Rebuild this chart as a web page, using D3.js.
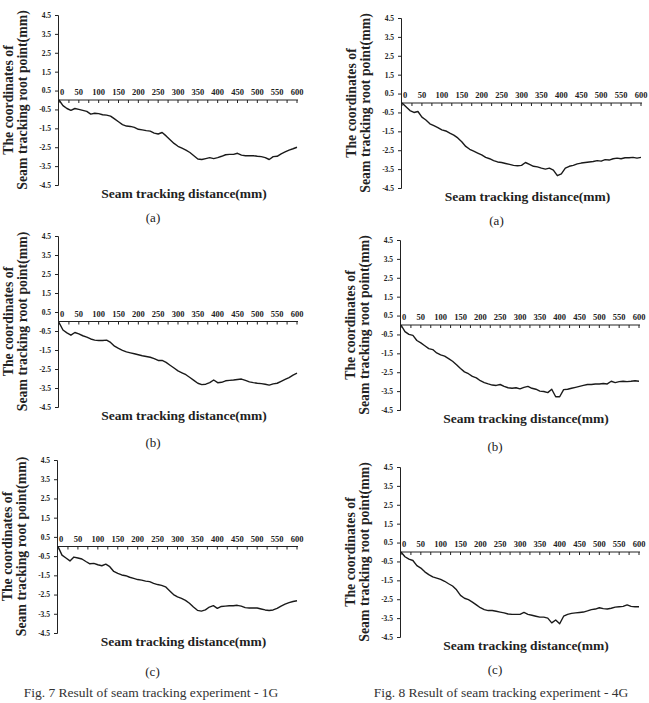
<!DOCTYPE html>
<html>
<head>
<meta charset="utf-8">
<script src="https://cdn.jsdelivr.net/npm/d3@7"></script>
<style>
  html, body { margin: 0; padding: 0; background: #fff; }
  svg { display: block; }
</style>
</head>
<body>
<svg id="chart" width="649" height="703"></svg>
<script>
// ---------- DATA ----------
const distance = [0,10,20,30,40,50,60,70,80,90,100,110,120,130,140,150,160,170,180,190,200,
  210,220,230,240,250,260,270,280,290,300,310,320,330,340,350,360,370,380,390,400,
  410,420,430,440,450,460,470,480,490,500,510,520,530,540,550,560,570,580,590,600];

const xTickLabels = [0,50,100,150,200,250,300,350,400,450,500,550,600];
const yTickLabels = ["4.5","3.5","2.5","1.5","0.5","-0.5","-1.5","-2.5","-3.5","-4.5"];

// Fig. 7 (1G)
const fig7a = [0,-0.3,-0.45,-0.55,-0.45,-0.5,-0.55,-0.6,-0.75,-0.7,-0.72,-0.78,-0.8,-0.85,-1.0,-1.15,-1.3,-1.38,-1.4,-1.45,-1.55,
  -1.58,-1.62,-1.65,-1.75,-1.8,-1.72,-1.9,-2.1,-2.3,-2.45,-2.55,-2.65,-2.78,-2.95,-3.12,-3.15,-3.1,-3.05,-3.1,-3.05,
  -2.98,-2.9,-2.88,-2.88,-2.82,-2.92,-2.95,-2.95,-2.95,-2.98,-3.0,-3.05,-3.15,-3.0,-2.98,-2.85,-2.75,-2.65,-2.58,-2.5];
const fig7b = [-0.05,-0.45,-0.6,-0.72,-0.58,-0.65,-0.75,-0.82,-0.92,-0.98,-1.0,-1.0,-0.98,-1.1,-1.3,-1.42,-1.52,-1.6,-1.65,-1.7,-1.75,
  -1.8,-1.84,-1.88,-1.95,-2.05,-2.05,-2.15,-2.3,-2.45,-2.6,-2.7,-2.8,-2.95,-3.1,-3.25,-3.32,-3.3,-3.22,-3.08,-3.22,
  -3.2,-3.12,-3.1,-3.08,-3.05,-3.03,-3.1,-3.18,-3.22,-3.25,-3.27,-3.3,-3.35,-3.28,-3.25,-3.15,-3.05,-2.95,-2.82,-2.72];
const fig7c = [0,-0.45,-0.6,-0.75,-0.55,-0.6,-0.65,-0.78,-0.9,-0.88,-0.95,-1.0,-0.92,-1.05,-1.3,-1.4,-1.48,-1.52,-1.6,-1.66,-1.72,
  -1.75,-1.8,-1.83,-1.92,-1.98,-2.02,-2.1,-2.3,-2.5,-2.62,-2.7,-2.8,-2.95,-3.15,-3.32,-3.36,-3.3,-3.15,-3.08,-3.22,
  -3.12,-3.1,-3.08,-3.08,-3.06,-3.1,-3.18,-3.2,-3.2,-3.2,-3.25,-3.3,-3.33,-3.3,-3.22,-3.1,-3.0,-2.92,-2.86,-2.82];

// Fig. 8 (4G)
const fig8a = [0,-0.2,-0.4,-0.5,-0.45,-0.75,-0.9,-1.1,-1.2,-1.3,-1.42,-1.48,-1.6,-1.7,-1.85,-2.05,-2.3,-2.45,-2.55,-2.65,-2.75,
  -2.88,-2.95,-3.05,-3.12,-3.15,-3.2,-3.25,-3.3,-3.32,-3.3,-3.15,-3.25,-3.35,-3.38,-3.45,-3.5,-3.45,-3.55,-3.85,-3.75,
  -3.45,-3.35,-3.3,-3.22,-3.18,-3.15,-3.12,-3.1,-3.05,-3.08,-3.0,-3.02,-2.95,-2.92,-2.95,-2.9,-2.9,-2.88,-2.92,-2.88];
const fig8b = [0,-0.35,-0.5,-0.55,-0.82,-0.95,-1.1,-1.25,-1.3,-1.48,-1.58,-1.65,-1.78,-1.92,-2.1,-2.3,-2.48,-2.58,-2.72,-2.8,-2.95,
  -3.05,-3.12,-3.18,-3.2,-3.15,-3.25,-3.32,-3.35,-3.32,-3.38,-3.3,-3.25,-3.35,-3.4,-3.5,-3.52,-3.58,-3.4,-3.8,-3.8,
  -3.42,-3.4,-3.35,-3.3,-3.25,-3.2,-3.15,-3.15,-3.12,-3.12,-3.1,-3.12,-2.98,-3.05,-3.0,-2.98,-3.0,-2.98,-2.95,-2.98];
const fig8c = [0,-0.25,-0.38,-0.45,-0.72,-0.85,-1.05,-1.2,-1.32,-1.38,-1.45,-1.55,-1.68,-1.8,-2.0,-2.3,-2.45,-2.52,-2.65,-2.8,-2.95,
  -3.05,-3.1,-3.1,-3.14,-3.18,-3.22,-3.28,-3.3,-3.3,-3.3,-3.2,-3.3,-3.35,-3.4,-3.45,-3.45,-3.5,-3.75,-3.6,-3.8,
  -3.4,-3.3,-3.25,-3.22,-3.2,-3.18,-3.12,-3.05,-3.02,-2.95,-3.0,-3.02,-2.98,-2.92,-2.9,-2.88,-2.8,-2.88,-2.9,-2.9];

const subLabels = ["(a)","(a)","(b)","(b)","(c)","(c)"];
const captions = ["Fig. 7 Result of seam tracking experiment - 1G","Fig. 8 Result of seam tracking experiment - 4G"];
const yTitleLines = ["The coordinates of","Seam tracking root point(mm)"];
const xTitle = "Seam tracking distance(mm)";

// ---------- LAYOUT ----------
const series = [fig7a, fig8a, fig7b, fig8b, fig7c, fig8c];
const panels = [
  {x0:59,  x1:297, yT:15,  yB:185, subY:222},
  {x0:402, x1:641, yT:18,  yB:188, subY:225},
  {x0:59,  x1:297, yT:236, yB:407, subY:447},
  {x0:401, x1:639, yT:240, yB:410, subY:451},
  {x0:58,  x1:297, yT:460, yB:633, subY:676},
  {x0:401, x1:639, yT:467, yB:637, subY:674}
];

const svg = d3.select("#chart");
const ink = "#222";
const serif = "'Liberation Serif', 'Times New Roman', serif";

panels.forEach((p, i) => {
  const data = series[i];
  const x = d3.scaleLinear().domain([0, 600]).range([p.x0, p.x1]);
  const y = d3.scaleLinear().domain([-4.5, 4.5]).range([p.yB, p.yT]);
  const g = svg.append("g");

  // y axis
  const yAxis = d3.axisLeft(y)
    .tickValues(yTickLabels.map(Number))
    .tickFormat((d, j) => yTickLabels[j])
    .tickSize(3).tickPadding(4);
  const ya = g.append("g").attr("transform", `translate(${p.x0 - 1},0)`).call(yAxis);
  ya.select(".domain").attr("stroke", ink).attr("stroke-width", 1);
  ya.selectAll(".tick line").attr("stroke", ink);
  ya.selectAll(".tick text").attr("fill", ink)
    .style("font-family", serif).style("font-weight", "bold").style("font-size", "7.5px");

  // x axis at y = 0, labels above, ticks below
  const minor = d3.range(0, 601, 25);
  const xa = g.append("g").attr("transform", `translate(0,${y(0)})`);
  xa.append("line").attr("x1", x(0)).attr("x2", x(600) + 1)
    .attr("stroke", ink).attr("stroke-width", 1);
  xa.selectAll("line.tk").data(minor).join("line").attr("class", "tk")
    .attr("x1", d => x(d)).attr("x2", d => x(d)).attr("y1", 0).attr("y2", 3)
    .attr("stroke", ink).attr("stroke-width", 1);
  xa.selectAll("text").data(xTickLabels).join("text")
    .attr("x", d => x(d) + (d === 0 ? 3 : 0)).attr("y", -5)
    .attr("text-anchor", "middle").attr("fill", ink)
    .style("font-family", serif).style("font-weight", "bold").style("font-size", "8.5px")
    .text(d => d);

  // line
  const line = d3.line().x((d, j) => x(distance[j])).y(d => y(d));
  g.append("path").datum(data).attr("d", line)
    .attr("fill", "none").attr("stroke", "#1a1a1a").attr("stroke-width", 1.4)
    .attr("stroke-linejoin", "round");

  // y title (two lines, rotated)
  const cy = (p.yT + p.yB) / 2;
  [p.x0 - 46, p.x0 - 32].forEach((tx, k) => {
    g.append("text")
      .attr("transform", `translate(${tx},${cy}) rotate(-90)`)
      .attr("text-anchor", "middle").attr("fill", ink)
      .style("font-family", serif).style("font-weight", "bold").style("font-size", "13.8px")
      .text(yTitleLines[k]);
  });

  // x title
  g.append("text").attr("x", (p.x0 + p.x1) / 2 + 6).attr("y", p.yB + 13)
    .attr("text-anchor", "middle").attr("fill", ink)
    .style("font-family", serif).style("font-weight", "bold").style("font-size", "13.5px")
    .text(xTitle);

  // sub label
  g.append("text").attr("x", (p.x0 + p.x1) / 2 - 25).attr("y", p.subY)
    .attr("text-anchor", "middle").attr("fill", ink)
    .style("font-family", serif).style("font-size", "13px")
    .text(subLabels[i]);
});

// captions
[151, 501].forEach((cx, k) => {
  svg.append("text").attr("x", cx).attr("y", 697)
    .attr("text-anchor", "middle").attr("fill", "#333")
    .style("font-family", serif).style("font-size", "13.5px")
    .text(captions[k]);
});
</script>
</body>
</html>
